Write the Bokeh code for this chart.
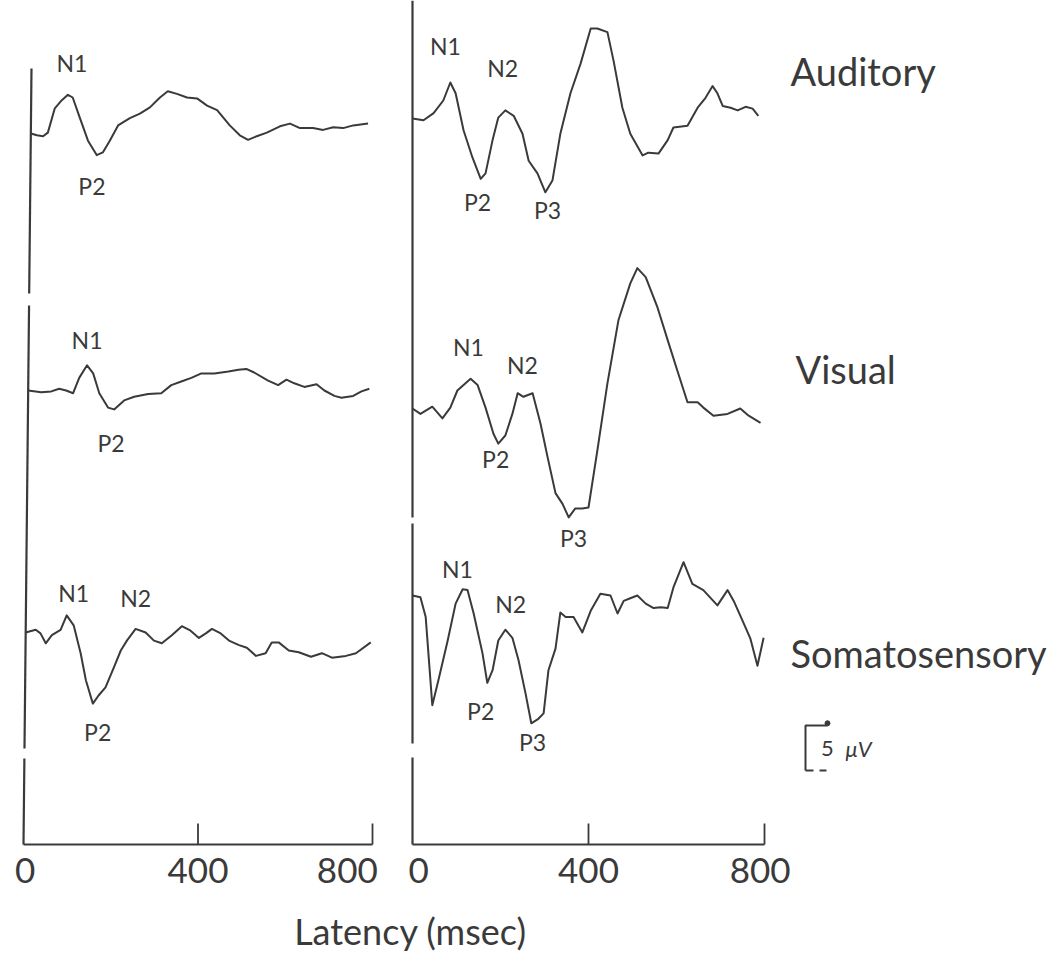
from bokeh.plotting import figure
from bokeh.models import Range1d
from bokeh.core.properties import value
from bokeh.embed import file_html
from bokeh.resources import INLINE

# ---------------- data: latency (ms) and amplitude (uV, negative drawn upward) ----------------
aud_l_ms = [0, 14, 28, 39, 55, 71, 85, 96, 112, 131, 151, 165, 181, 200, 227, 250, 273, 296, 314, 335,
            358, 381, 404, 427, 456, 479, 498, 518, 541, 571, 594, 617, 647, 670, 693, 716, 739, 773]
aud_l_uv = [0, 0.2, 0.3, -0.1, -2.8, -3.7, -4.3, -4.0, -1.8, 0.8, 2.4, 2.1, 0.8, -0.9, -1.7, -2.2, -2.9, -4.0, -4.7, -4.4,
            -4.0, -3.9, -3.1, -2.6, -0.9, 0.2, 0.7, 0.3, -0.1, -0.8, -1.1, -0.6, -0.6, -0.4, -0.7, -0.6, -0.9, -1.1]

aud_r_ms = [0, 25, 48, 70, 86, 98, 116, 136, 155, 166, 182, 195, 211, 230, 250, 264, 284, 302, 318, 336,
            359, 382, 405, 420, 443, 457, 477, 495, 523, 536, 559, 580, 593, 625, 648, 666, 682, 693, 705, 723,
            739, 757, 773, 786]
aud_r_uv = [0, 0.2, -0.6, -2.0, -4.0, -2.8, 1.3, 4.3, 6.7, 6.1, 2.4, -0.1, -0.9, -0.3, 1.7, 4.7, 6.1, 8.2, 6.9, 1.7,
            -2.8, -6.1, -10.0, -10.0, -9.6, -6.4, -1.2, 1.7, 4.1, 3.8, 3.9, 2.4, 1.0, 0.8, -1.2, -2.3, -3.6, -2.8, -1.4, -1.2,
            -0.9, -1.3, -1.1, -0.3]

vis_l_ms = [0, 30, 53, 71, 87, 103, 117, 135, 149, 163, 183, 197, 220, 243, 275, 305, 328, 351, 374, 397,
            427, 459, 482, 500, 518, 550, 573, 592, 610, 633, 661, 679, 702, 718, 745, 764, 782]
vis_l_uv = [0, 0.2, 0.1, -0.2, 0, 0.3, -1.4, -2.8, -1.9, 0.3, 1.9, 2.1, 1.1, 0.7, 0.4, 0.3, -0.6, -1.0, -1.4, -1.9,
            -1.9, -2.1, -2.3, -2.4, -2.0, -1.1, -0.6, -1.2, -0.8, -0.4, -0.7, 0, 0.6, 0.8, 0.6, 0.1, -0.2]

vis_r_ms = [0, 18, 45, 68, 86, 102, 132, 148, 166, 184, 195, 211, 227, 239, 252, 273, 291, 307, 325, 341,
            355, 370, 386, 400, 420, 443, 468, 495, 511, 530, 557, 580, 602, 625, 648, 661, 684, 716, 745, 764, 791]
vis_r_uv = [0, 0.6, -0.2, 1.1, -0.1, -2.0, -3.3, -2.6, -0.1, 2.8, 3.9, 3.0, 0.6, -1.7, -1.3, -1.7, 1.7, 5.4, 9.4, 10.6,
            12.1, 11.1, 11.1, 11.0, 4.7, -2.8, -9.8, -13.9, -15.6, -14.6, -11.2, -7.6, -4.2, -0.7, -0.7, -0.1, 0.8, 0.6, 0, 0.8, 1.6]

som_l_ms = [0, 23, 34, 46, 60, 80, 94, 110, 126, 138, 154, 167, 183, 202, 218, 232, 252, 275, 294, 312,
            335, 358, 378, 397, 413, 427, 447, 466, 489, 507, 528, 550, 564, 580, 603, 626, 654, 679, 702, 734, 757, 791]
som_l_uv = [0, -0.3, 0.1, 1.2, 0.3, -0.3, -1.9, -0.8, 2.3, 5.3, 7.9, 7.0, 6.1, 3.9, 2.0, 0.9, -0.4, 0, 0.9, 1.2,
            0.3, -0.7, -0.2, 0.6, 0.1, -0.4, 0.1, 0.9, 1.4, 1.7, 2.6, 2.3, 1.1, 1.1, 2.0, 2.2, 2.7, 2.3, 2.8, 2.6, 2.3, 1.1]

som_r_ms = [0, 18, 30, 45, 59, 80, 98, 114, 125, 139, 159, 170, 182, 195, 211, 227, 241, 257, 270, 286,
            298, 309, 325, 336, 348, 366, 386, 405, 427, 450, 466, 480, 495, 511, 530, 548, 564, 580, 593, 616,
            636, 661, 693, 716, 730, 750, 768, 784, 798]
som_r_uv = [0, 0.2, 2.4, 12.2, 9.4, 5.0, 0.9, -0.7, -0.6, 2.0, 6.4, 9.7, 8.3, 5.0, 3.8, 4.7, 7.2, 10.9, 14.2, 13.7,
            13.1, 8.3, 5.9, 1.9, 2.4, 2.4, 4.1, 1.7, -0.2, 0, 2.0, 0.6, 0.3, 0, 0.9, 1.4, 1.3, 1.4, -0.9, -3.7,
            -1.3, -0.6, 1.1, -0.6, 0.6, 2.8, 4.8, 7.8, 4.7]

modalities = ["Auditory", "Visual", "Somatosensory"]

# peak labels: (text, latency ms, amplitude uV) per trace
aud_l_peaks = [("N1", 94, -7.8), ("P2", 140, 5.8)]
aud_r_peaks = [("N1", 75, -8.1), ("N2", 205, -5.6), ("P2", 148, 9.3), ("P3", 307, 10.2)]
vis_l_peaks = [("N1", 135, -5.6), ("P2", 190, 5.8)]
vis_r_peaks = [("N1", 127, -6.8), ("N2", 250, -4.8), ("P2", 189, 5.6), ("P3", 366, 14.4)]
som_l_peaks = [("N1", 110, -4.4), ("N2", 252, -3.8), ("P2", 165, 11.1)]
som_r_peaks = [("N1", 102, -3.0), ("N2", 223, 0.9), ("P2", 155, 12.8), ("P3", 273, 16.3)]

tick_values = [0, 400, 800]
tick_labels = ["0", "400", "800"]
x_title = "Latency (msec)"
scale_uv = 5
scale_label = "5"
scale_unit = "\u03bcV"

# ---------------- layout ----------------
W, H = 1055, 957
PX_PER_UV = 9.0
L_X0, L_PX_PER_MS = 23, 0.43625
R_X0, R_PX_PER_MS = 412, 0.44
AXIS_Y = 844 / PX_PER_UV
ROW_BASE_L = [133 / PX_PER_UV, 390 / PX_PER_UV, 632 / PX_PER_UV]
ROW_BASE_R = [118 / PX_PER_UV, 408 / PX_PER_UV, 595 / PX_PER_UV]
INK = "#3a3a3a"
FONT = value("Lato")


def tilt(y):
    # the scanned left axis leans slightly (8 px over its height)
    return (8 / L_PX_PER_MS) * (AXIS_Y - y) / (AXIS_Y - 68 / PX_PER_UV)


p = figure(width=W, height=H, output_backend="svg", toolbar_location=None,
           x_axis_type=None, y_axis_type=None, min_border=0,
           x_range=Range1d(-L_X0 / L_PX_PER_MS, (W - L_X0) / L_PX_PER_MS),
           y_range=Range1d(H / PX_PER_UV, 0))
p.extra_x_ranges = {"r": Range1d(-R_X0 / R_PX_PER_MS, (W - R_X0) / R_PX_PER_MS)}
p.outline_line_color = None
p.grid.visible = False
p.background_fill_color = "white"
p.border_fill_color = "white"

# ---- axes (drawn by hand: two panels share one bottom row) ----
for y0, y1 in [(68, 293), (305, 748), (758, 844)]:
    a, b = y0 / PX_PER_UV, y1 / PX_PER_UV
    p.line([tilt(a), tilt(b)], [a, b], line_color=INK, line_width=2.2)
for y0, y1 in [(0, 517), (523, 743), (757, 844)]:
    a, b = y0 / PX_PER_UV, y1 / PX_PER_UV
    p.line([0, 0], [a, b], line_color=INK, line_width=2.2, x_range_name="r")

tick_len = 21 / PX_PER_UV
for rng in ["default", "r"]:
    p.line([tick_values[0], tick_values[-1]], [AXIS_Y, AXIS_Y], line_color=INK, line_width=2.2, x_range_name=rng)
    p.segment(x0=tick_values[1:], y0=[AXIS_Y] * 2, x1=tick_values[1:], y1=[AXIS_Y - tick_len] * 2,
              line_color=INK, line_width=1.8, x_range_name=rng)

lab_y = 870 / PX_PER_UV
p.text(x=[tick_values[0] + 4, tick_values[1]], y=[lab_y] * 2, text=tick_labels[:2], text_font=FONT,
       text_font_size="35px", text_align="center", text_baseline="middle", text_color=INK)
p.text(x=[tick_values[2] + 12], y=[lab_y], text=[tick_labels[2]], text_font=FONT,
       text_font_size="35px", text_align="right", text_baseline="middle", text_color=INK)
p.text(x=[tick_values[0] + 14, tick_values[1], tick_values[2] - 10], y=[lab_y] * 3, text=tick_labels,
       text_font=FONT, text_font_size="35px", text_align="center", text_baseline="middle",
       text_color=INK, x_range_name="r")

p.text(x=[(410 - L_X0) / L_PX_PER_MS], y=[930 / PX_PER_UV], text=[x_title], text_font=FONT,
       text_font_size="36px", text_align="center", text_baseline="middle", text_color=INK)

# ---- waveforms ----
left = [(aud_l_ms, aud_l_uv, aud_l_peaks), (vis_l_ms, vis_l_uv, vis_l_peaks), (som_l_ms, som_l_uv, som_l_peaks)]
right = [(aud_r_ms, aud_r_uv, aud_r_peaks), (vis_r_ms, vis_r_uv, vis_r_peaks), (som_r_ms, som_r_uv, som_r_peaks)]

for i, (ms, uv, peaks) in enumerate(left):
    base = ROW_BASE_L[i]
    dx = tilt(base)
    p.line([m + dx for m in ms], [base + v for v in uv], line_color=INK, line_width=2.0, line_join="round")
    p.text(x=[pk[1] + dx for pk in peaks], y=[base + pk[2] for pk in peaks], text=[pk[0] for pk in peaks],
           text_font=FONT, text_font_size="23px", text_align="center", text_baseline="middle", text_color=INK)

for i, (ms, uv, peaks) in enumerate(right):
    base = ROW_BASE_R[i]
    p.line(ms, [base + v for v in uv], line_color=INK, line_width=2.0, line_join="round", x_range_name="r")
    p.text(x=[pk[1] for pk in peaks], y=[base + pk[2] for pk in peaks], text=[pk[0] for pk in peaks],
           text_font=FONT, text_font_size="23px", text_align="center", text_baseline="middle",
           text_color=INK, x_range_name="r")

# modality names to the right
name_x = [(790 - R_X0) / R_PX_PER_MS, (795 - R_X0) / R_PX_PER_MS, (790 - R_X0) / R_PX_PER_MS]
name_y = [70 / PX_PER_UV, 368 / PX_PER_UV, 652 / PX_PER_UV]
p.text(x=name_x, y=name_y, text=modalities, text_font=FONT, text_font_size="38px",
       text_align="left", text_baseline="middle", text_color=INK, x_range_name="r")

# ---- calibration bracket: 5 uV ----
bx = (805 - R_X0) / R_PX_PER_MS
bx_end = (827 - R_X0) / R_PX_PER_MS
bbot = 770 / PX_PER_UV
btop = bbot - scale_uv
p.line([bx_end, bx, bx], [btop, btop, bbot], line_color=INK, line_width=2.0, x_range_name="r")
p.segment(x0=[bx, (819 - R_X0) / R_PX_PER_MS], y0=[bbot, bbot],
          x1=[(813 - R_X0) / R_PX_PER_MS, (826 - R_X0) / R_PX_PER_MS], y1=[bbot, bbot],
          line_color=INK, line_width=2.0, x_range_name="r")
p.scatter([bx_end], [btop - 0.25], size=5, color=INK, x_range_name="r")
p.text(x=[bx_end], y=[(btop + bbot) / 2], text=[scale_label], text_font=FONT, text_font_size="22px",
       text_align="center", text_baseline="middle", text_color=INK, x_range_name="r")
p.text(x=[(845 - R_X0) / R_PX_PER_MS], y=[(btop + bbot) / 2], text=[scale_unit], text_font=FONT,
       text_font_size="22px", text_font_style="italic", text_align="left", text_baseline="middle",
       text_color=INK, x_range_name="r")

open("out.html", "w").write(file_html(p, INLINE))
